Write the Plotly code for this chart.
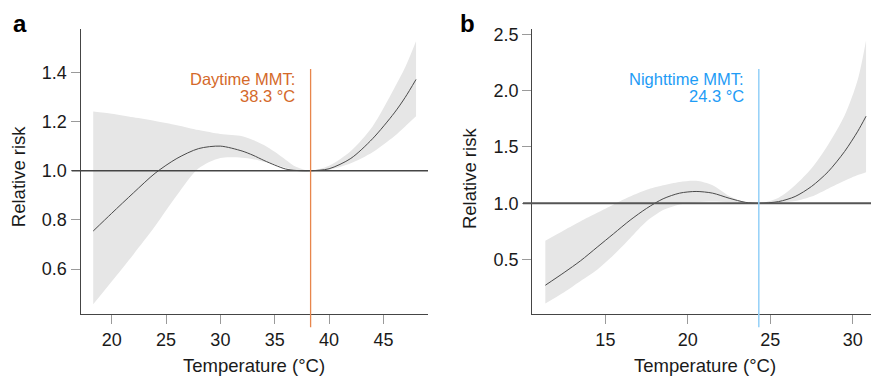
import plotly.graph_objects as go

# ---------------- Data ----------------
# Panel a: daytime temperature
temp_a = [18.3, 20, 22, 24, 26, 28, 30, 32, 33, 34, 35, 36, 37, 38.3, 40, 42, 44, 46, 47, 48]
rr_a = [0.755, 0.827, 0.91, 0.99, 1.05, 1.09, 1.10, 1.08, 1.063, 1.042, 1.023, 1.007, 1.001,
        1.0, 1.008, 1.05, 1.13, 1.235, 1.298, 1.371]
upper_a = [1.241, 1.232, 1.217, 1.202, 1.185, 1.165, 1.149, 1.14, 1.125, 1.105, 1.077, 1.045,
           1.015, 1.0, 1.02, 1.08, 1.18, 1.335, 1.42, 1.526]
lower_a = [0.457, 0.55, 0.66, 0.775, 0.90, 1.01, 1.052, 1.053, 1.047, 1.036, 1.025, 1.012,
           1.003, 1.0, 1.004, 1.03, 1.075, 1.14, 1.18, 1.221]
mmt_a = 38.3

# Panel b: nighttime temperature
temp_b = [11.36, 12.5, 13.5, 14.5, 15.5, 16.5, 17.5, 18.5, 19.5, 20.5, 21.5, 22.5, 23.5, 24.3,
          25.5, 26.5, 27.5, 28.5, 29.5, 30.3, 30.8]
rr_b = [0.272, 0.385, 0.49, 0.61, 0.73, 0.85, 0.955, 1.04, 1.09, 1.105, 1.09, 1.045, 1.008, 1.0,
        1.015, 1.06, 1.15, 1.28, 1.46, 1.64, 1.773]
upper_b = [0.667, 0.76, 0.84, 0.915, 0.99, 1.06, 1.12, 1.16, 1.19, 1.2, 1.16, 1.065, 1.01, 1.0,
           1.05, 1.16, 1.31, 1.52, 1.78, 2.1, 2.446]
lower_b = [0.11, 0.21, 0.31, 0.41, 0.54, 0.69, 0.84, 0.94, 0.99, 1.01, 1.016, 1.01, 1.002, 1.0,
           1.004, 1.02, 1.06, 1.13, 1.2, 1.25, 1.275]
mmt_b = 24.3

xticks_a = [20, 25, 30, 35, 40, 45]
yticks_a = [0.6, 0.8, 1.0, 1.2, 1.4]
xticks_b = [15, 20, 25, 30]
yticks_b = [0.5, 1.0, 1.5, 2.0, 2.5]

# ---------------- Style ----------------
W, H = 871, 376
FONT = "Liberation Sans, Arial, Helvetica, sans-serif"
BAND = "#e6e6e6"
CURVE = "#4a4a4a"
AXIS = "#454545"
TICK = "#9a9a9a"
ORANGE_T = "#d4692a"
ORANGE_L = "#e8864c"
BLUE_T = "#1e9cf6"
BLUE_L = "#93d0f8"

fig = go.Figure()


def add_panel(x, lo, hi, c, xa, ya):
    fig.add_trace(go.Scatter(x=x, y=lo, mode="lines", line=dict(width=0, shape="spline", smoothing=0.8),
                             xaxis=xa, yaxis=ya, showlegend=False, hoverinfo="skip"))
    fig.add_trace(go.Scatter(x=x, y=hi, mode="lines", line=dict(width=0, shape="spline", smoothing=0.8),
                             fill="tonexty", fillcolor=BAND,
                             xaxis=xa, yaxis=ya, showlegend=False, hoverinfo="skip"))
    fig.add_trace(go.Scatter(x=x, y=c, mode="lines",
                             line=dict(color=CURVE, width=1, shape="spline", smoothing=0.8),
                             xaxis=xa, yaxis=ya, showlegend=False))


add_panel(temp_a, lower_a, upper_a, rr_a, "x", "y")
add_panel(temp_b, lower_b, upper_b, rr_b, "x2", "y2")

px = lambda v: v / W
py = lambda v: 1 - v / H

ydom = [py(313.3), py(25)]
axis_common = dict(showgrid=False, zeroline=False, showline=True, linecolor=AXIS, linewidth=1.4,
                   ticks="outside", ticklen=9, tickcolor=TICK, tickwidth=1.2,
                   tickfont=dict(family=FONT, size=18, color="#1a1a1a"))

fig.update_layout(
    width=W, height=H, margin=dict(l=0, r=0, t=0, b=0),
    paper_bgcolor="white", plot_bgcolor="white", showlegend=False,
    xaxis=dict(domain=[px(80.7), px(428)], range=[17.15, 49.1], tickvals=xticks_a,
               anchor="y", **axis_common),
    yaxis=dict(domain=ydom, range=[0.418, 1.577], tickvals=yticks_a, tickformat=".1f",
               anchor="x", **axis_common),
    xaxis2=dict(domain=[px(532.3), 1.0], range=[10.57, 31.1], tickvals=xticks_b,
                anchor="y2", **axis_common),
    yaxis2=dict(domain=ydom, range=[0.017, 2.55], tickvals=yticks_b, tickformat=".1f",
                anchor="x2", **axis_common),
)

shapes = [
    # reference lines at RR = 1
    dict(type="line", xref="paper", x0=px(71.7), x1=px(428), yref="y", y0=1.0, y1=1.0,
         line=dict(color=AXIS, width=1.5), layer="above"),
    dict(type="line", xref="paper", x0=px(523), x1=1.0, yref="y2", y0=1.0, y1=1.0,
         line=dict(color="#555555", width=2), layer="above"),
    # MMT lines
    dict(type="line", xref="x", x0=mmt_a, x1=mmt_a, yref="paper", y0=py(326.7), y1=py(65.7),
         line=dict(color=ORANGE_L, width=1.3), layer="above"),
    dict(type="line", xref="x2", x0=mmt_b, x1=mmt_b, yref="paper", y0=py(326.7), y1=py(65.7),
         line=dict(color=BLUE_L, width=1.5), layer="above"),
]
fig.update_layout(shapes=shapes)

ann = []


def label(text, x, xref, xanchor, y, color, size=16.5, bold=False, xshift=0, textangle=0):
    ann.append(dict(text=("<b>%s</b>" % text) if bold else text, x=x, xref=xref, xanchor=xanchor,
                    y=y, yref="paper", yanchor="middle", showarrow=False, xshift=xshift,
                    textangle=textangle, font=dict(family=FONT, size=size, color=color)))


# MMT labels
label("Daytime MMT:", mmt_a, "x", "right", py(76), ORANGE_T, xshift=-14)
label("38.3 °C", mmt_a, "x", "right", py(93), ORANGE_T, xshift=-14)
label("Nighttime MMT:", mmt_b, "x2", "right", py(76), BLUE_T, xshift=-13)
label("24.3 °C", mmt_b, "x2", "right", py(93), BLUE_T, xshift=-13)

# Axis titles
label("Temperature (°C)", px(253.5), "paper", "center", py(365), "#1a1a1a", size=18.5)
label("Temperature (°C)", px(705), "paper", "center", py(365), "#1a1a1a", size=18.5)
label("Relative risk", px(18), "paper", "center", py(175), "#1a1a1a", size=18.5, textangle=-90)
label("Relative risk", px(469), "paper", "center", py(177), "#1a1a1a", size=18.5, textangle=-90)

# Panel letters
label("a", px(20), "paper", "center", py(20), "#000000", size=24, bold=True)
label("b", px(467.5), "paper", "center", py(20), "#000000", size=24, bold=True)

fig.update_layout(annotations=ann)

fig.write_html(
    "out.html",
    config={"displayModeBar": False},
    post_script="document.body.style.margin='0';document.body.style.overflow='hidden';",
)
